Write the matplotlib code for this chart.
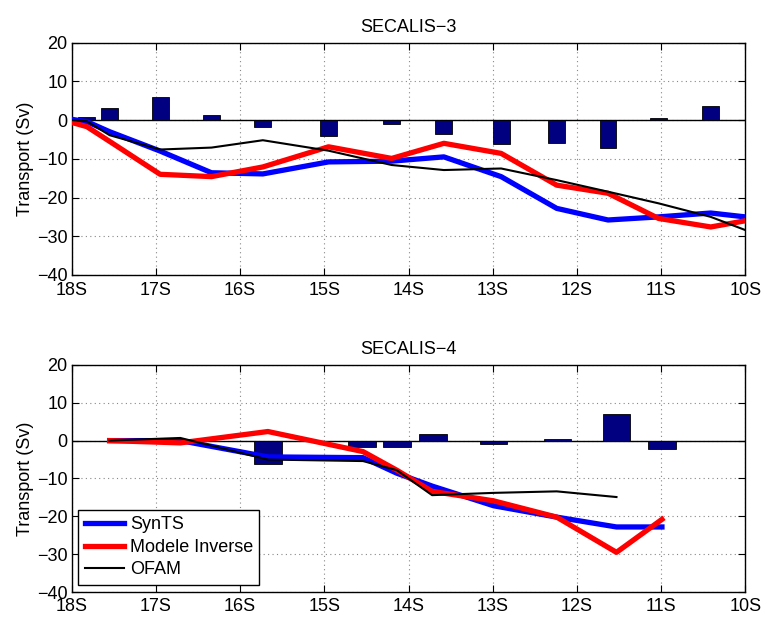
import matplotlib
matplotlib.use("Agg")
import matplotlib.pyplot as plt
import numpy as np

plt.rcParams['font.family'] = ['Liberation Sans', 'DejaVu Sans']

# ---- SECALIS-3 ----
s3_bar_lat = [-17.82, -17.55, -16.95, -16.34, -15.73, -14.95, -14.20, -13.58, -12.90, -12.24, -11.63, -11.03, -10.41]
s3_bar_val = [0.85, 3.0, 6.0, 1.3, -1.8, -4.0, -1.0, -3.7, -6.3, -5.9, -7.3, 0.6, 3.7]

s3_lat = [-18.0, -17.82, -17.55, -16.95, -16.34, -15.73, -14.95, -14.20, -13.58, -12.90, -12.24, -11.63, -11.03, -10.41, -10.0]
s3_synts = [0.2, -0.4, -3.0, -8.0, -13.6, -13.9, -10.8, -10.6, -9.5, -14.6, -22.8, -25.8, -25.0, -24.0, -25.0]
s3_inverse = [-0.6, -1.7, -5.5, -14.0, -14.6, -12.1, -6.9, -9.9, -6.0, -8.6, -16.8, -18.9, -25.4, -27.6, -26.0]
s3_ofam = [0.0, -0.3, -3.9, -7.6, -7.1, -5.2, -7.9, -11.6, -12.9, -12.5, -15.5, -18.5, -21.5, -25.0, -28.4]

# ---- SECALIS-4 ----
s4_bar_lat = [-15.67, -14.55, -14.14, -13.71, -12.99, -12.23, -11.53, -10.99]
s4_bar_val = [-6.3, -1.6, -1.7, 1.8, -0.9, 0.5, 6.9, -2.1]

s4_lat = [-17.55, -16.71, -15.67, -14.54, -14.14, -13.72, -12.99, -12.24, -11.53, -10.99]
s4_synts = [0.0, 0.0, -4.3, -4.5, -8.6, -12.0, -17.2, -20.2, -22.8, -22.8]
s4_inverse = [0.0, -0.6, 2.4, -2.9, -7.8, -13.4, -15.9, -20.2, -29.5, -20.8]
s4_ofam_lat = [-17.55, -16.71, -15.67, -14.54, -14.14, -13.72, -12.99, -12.24, -11.53]
s4_ofam = [0.0, 0.7, -5.0, -5.4, -7.8, -14.4, -13.8, -13.4, -14.9]

xticks = [-18, -17, -16, -15, -14, -13, -12, -11, -10]
xticklabels = ['18S', '17S', '16S', '15S', '14S', '13S', '12S', '11S', '10S']
yticks = [-40, -30, -20, -10, 0, 10, 20]

fig = plt.figure(figsize=(7.63, 6.20), dpi=100)
ax1 = fig.add_axes([0.094, 0.5565, 0.8828, 0.3747])
ax2 = fig.add_axes([0.094, 0.045, 0.8828, 0.3665])

def style(ax, title, xpad):
    ax.set_xlim(-18, -10)
    ax.set_ylim(-40, 20)
    ax.set_xticks(xticks)
    ax.set_xticklabels(xticklabels)
    ax.set_yticks(yticks)
    ax.tick_params(direction='in', top=True, right=True, labelsize=13, length=5, width=0.8)
    ax.tick_params(axis='x', pad=xpad)
    ax.tick_params(axis='y', pad=3)
    ax.grid(True, linestyle=(0, (1, 3)), color='#888888', linewidth=0.8)
    ax.set_axisbelow(True)
    ax.set_ylabel('Transport (Sv)', fontsize=13, labelpad=2)
    ax.set_title(title, fontsize=13, pad=8)
    for sp in ax.spines.values():
        sp.set_linewidth(1.0)
    ax.axhline(0, color='black', linewidth=1.0, zorder=2)

style(ax1, 'SECALIS\u22123', 5)
style(ax2, 'SECALIS\u22124', 4.5)

ax1.bar(s3_bar_lat, s3_bar_val, width=0.2, color='#000080', edgecolor='black', linewidth=0.6, zorder=3)
ax1.plot(s3_lat, s3_synts, color='#0000ff', linewidth=3.8, zorder=4, solid_joinstyle='round')
ax1.plot(s3_lat, s3_inverse, color='#ff0000', linewidth=3.8, zorder=5, solid_joinstyle='round')
ax1.plot(s3_lat, s3_ofam, color='black', linewidth=1.5, zorder=6)

ax2.bar(s4_bar_lat, s4_bar_val, width=0.33, color='#000080', edgecolor='black', linewidth=0.6, zorder=3)
l1, = ax2.plot(s4_lat, s4_synts, color='#0000ff', linewidth=3.8, zorder=4, solid_joinstyle='round', label='SynTS')
l2, = ax2.plot(s4_lat, s4_inverse, color='#ff0000', linewidth=3.8, zorder=5, solid_joinstyle='round', label='Modele Inverse')
l3, = ax2.plot(s4_ofam_lat, s4_ofam, color='black', linewidth=1.5, zorder=6, label='OFAM')

leg = ax2.legend(handles=[l1, l2, l3], loc='lower left', bbox_to_anchor=(0.0098, 0.033),
                 borderaxespad=0, fontsize=13, fancybox=False, framealpha=1,
                 edgecolor='black', handlelength=2.2, handletextpad=0.3,
                 labelspacing=0.3, borderpad=0.35)
leg.get_frame().set_linewidth(1.0)
leg.set_zorder(10)

fig.savefig('out.png', dpi=100)
